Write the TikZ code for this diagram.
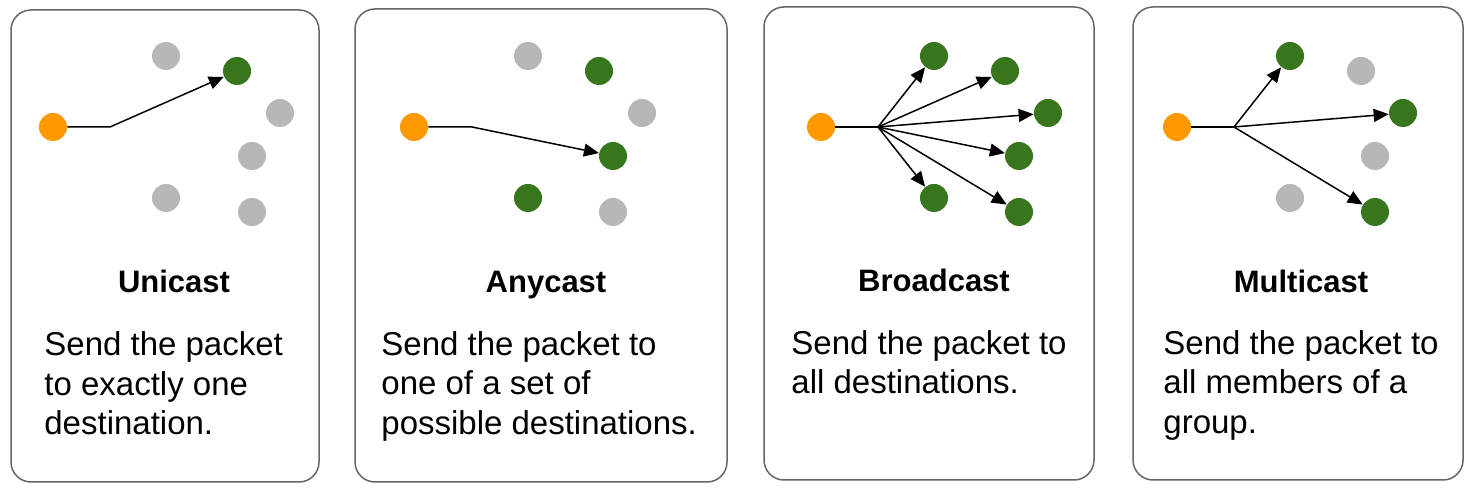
\documentclass[tikz,border=0pt]{standalone}
\usepackage{fontspec}
\setmainfont{Liberation Sans}
\usetikzlibrary{arrows.meta}
\definecolor{dotor}{HTML}{FF9900}
\definecolor{dotgr}{HTML}{38761D}
\definecolor{dotgy}{HTML}{B7B7B7}
\definecolor{cardline}{HTML}{666666}
\begin{document}
\begin{tikzpicture}[x=0.5pt,y=-0.5pt,
  card/.style={draw=cardline, line width=0.75pt, rounded corners=10pt},
  dot/.style={circle, inner sep=0pt, minimum size=14pt},
  src/.style={dot, fill=dotor},
  dst/.style={dot, fill=dotgr},
  idle/.style={dot, fill=dotgy},
  link/.style={line width=0.75pt, -{Triangle[length=7.5pt,width=6.5pt]}},
  title/.style={font=\bfseries\fontsize{15.5}{18}\selectfont, anchor=base, inner sep=0pt},
  body/.style={font=\fontsize{16.5}{20}\selectfont, anchor=base west, inner sep=0pt},
]
\useasboundingbox[fill=white] (0,0) rectangle (1481,490);

% cards
\draw[card] (11,10) rectangle (319,482);
\draw[card] (355,9) rectangle (727,482);
\draw[card] (764,7) rectangle (1094,480);
\draw[card] (1133,7) rectangle (1463,480);

% ---- Unicast
\node[src]  (o1) at (53,127) {};
\node[idle] (a1) at (166,56) {};
\node[dst]  (g1) at (237,71) {};
\node[idle] (c1) at (280,113) {};
\node[idle] (d1) at (252,156) {};
\node[idle] (e1) at (166,198) {};
\node[idle] (f1) at (252,212) {};
\coordinate (k1) at (110,127);
\draw[link] (o1) -- (k1) -- (g1);
\node[title] (t1) at (174,293) {Unicast};
\node[body] (l1a) at (44,356) {Send the packet};
\node[body] (l1b) at (44,396) {to exactly one};
\node[body] (l1c) at (44,435) {destination.};

% ---- Anycast
\node[src]  (o2) at (414,127) {};
\node[idle] (a2) at (528,56) {};
\node[dst]  (b2) at (599,71) {};
\node[idle] (c2) at (642,113) {};
\node[dst]  (g2) at (613,156) {};
\node[dst]  (e2) at (528,198) {};
\node[idle] (f2) at (613,212) {};
\coordinate (k2) at (472,127);
\draw[link] (o2) -- (k2) -- (g2);
\node[title] (t2) at (546,293) {Anycast};
\node[body] (l2a) at (381,356) {Send the packet to};
\node[body] (l2b) at (381,395) {one of a set of};
\node[body] (l2c) at (381,435) {possible destinations.};

% ---- Broadcast
\node[src] (o3) at (821,127) {};
\node[dst] (a3) at (934,56) {};
\node[dst] (b3) at (1005,71) {};
\node[dst] (c3) at (1048,113) {};
\node[dst] (d3) at (1019,156) {};
\node[dst] (e3) at (934,198) {};
\node[dst] (f3) at (1019,212) {};
\coordinate (k3) at (878,127);
\draw[line width=0.75pt] (o3) -- (k3);
\foreach \n in {a3,b3,c3,d3,e3,f3} \draw[link] (k3) -- (\n);
\node[title] (t3) at (934,292) {Broadcast};
\node[body] (l3a) at (791,355) {Send the packet to};
\node[body] (l3b) at (791,394) {all destinations.};

% ---- Multicast
\node[src]  (o4) at (1177,127) {};
\node[dst]  (a4) at (1290,56) {};
\node[idle] (b4) at (1361,71) {};
\node[dst]  (c4) at (1403,113) {};
\node[idle] (d4) at (1375,156) {};
\node[idle] (e4) at (1290,198) {};
\node[dst]  (f4) at (1375,212) {};
\coordinate (k4) at (1234,127);
\draw[line width=0.75pt] (o4) -- (k4);
\foreach \n in {a4,c4,f4} \draw[link] (k4) -- (\n);
\node[title] (t4) at (1301,293) {Multicast};
\node[body] (l4a) at (1163,355) {Send the packet to};
\node[body] (l4b) at (1163,394) {all members of a};
\node[body] (l4c) at (1163,434) {group.};
\end{tikzpicture}
\end{document}
